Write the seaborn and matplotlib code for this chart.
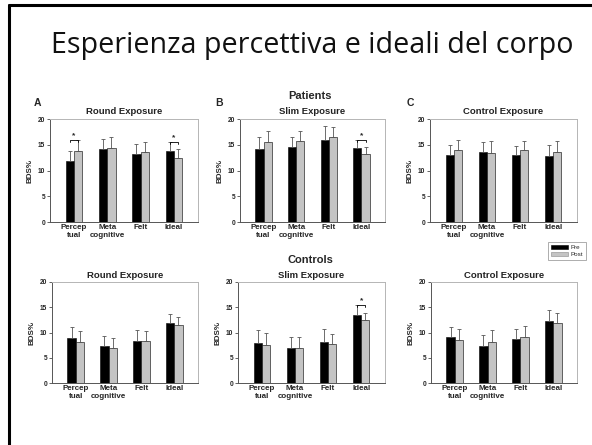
import matplotlib
matplotlib.use("Agg")
import matplotlib.pyplot as plt
import seaborn as sns
import pandas as pd
from matplotlib.patches import Patch
from matplotlib.lines import Line2D

sns.set_theme(style="white")
plt.rcParams['font.family'] = ['Liberation Sans', 'DejaVu Sans']

W, H = 592, 445

measures = ["Percep\ntual", "Meta\ncognitive", "Felt", "Ideal"]
times = ["Pre", "Post"]

# Patients
pA_pre = [11.8, 14.1, 13.2, 13.8]
pA_post = [13.8, 14.4, 13.6, 12.5]
pA_pre_err = [2.0, 2.1, 2.0, 1.8]
pA_post_err = [2.2, 2.1, 1.9, 1.7]

pB_pre = [14.2, 14.5, 16.0, 14.4]
pB_post = [15.5, 15.8, 16.5, 13.2]
pB_pre_err = [2.4, 2.0, 2.6, 1.6]
pB_post_err = [2.2, 1.8, 2.0, 1.3]

pC_pre = [13.0, 13.5, 13.0, 12.9]
pC_post = [13.9, 13.4, 13.9, 13.6]
pC_pre_err = [2.0, 2.0, 1.8, 2.0]
pC_post_err = [2.1, 2.3, 1.9, 2.2]

# Controls
cA_pre = [8.9, 7.3, 8.4, 11.9]
cA_post = [8.2, 7.0, 8.3, 11.4]
cA_pre_err = [2.1, 2.1, 2.1, 1.8]
cA_post_err = [2.0, 2.0, 1.9, 1.7]

cB_pre = [7.9, 6.9, 8.1, 13.5]
cB_post = [7.6, 7.0, 7.8, 12.4]
cB_pre_err = [2.6, 2.2, 2.6, 2.0]
cB_post_err = [2.3, 2.1, 2.0, 1.5]

cC_pre = [9.1, 7.4, 8.7, 12.3]
cC_post = [8.6, 8.1, 9.1, 11.8]
cC_pre_err = [2.0, 2.1, 2.0, 2.1]
cC_post_err = [2.1, 2.4, 2.1, 2.1]

panels = [
    ("Round Exposure", pA_pre, pA_post, pA_pre_err, pA_post_err, [0, 3], (50, 198, 119, 222)),
    ("Slim Exposure", pB_pre, pB_post, pB_pre_err, pB_post_err, [3], (240, 385, 119, 222)),
    ("Control Exposure", pC_pre, pC_post, pC_pre_err, pC_post_err, [], (430, 577, 119, 222)),
    ("Round Exposure", cA_pre, cA_post, cA_pre_err, cA_post_err, [], (52, 198, 282, 383)),
    ("Slim Exposure", cB_pre, cB_post, cB_pre_err, cB_post_err, [3], (238, 385, 282, 383)),
    ("Control Exposure", cC_pre, cC_post, cC_pre_err, cC_post_err, [], (431, 577, 282, 383)),
]

colors = {"Pre": "#000000", "Post": "#c4c4c4"}

fig = plt.figure(figsize=(W / 100, H / 100), dpi=100)
fig.patch.set_facecolor("white")

# slide border (left and top)
fig.add_artist(Line2D([9 / W, 9 / W], [0, 1 - 5 / H], color="black", lw=2.2, transform=fig.transFigure))
fig.add_artist(Line2D([9 / W, 1], [1 - 5 / H, 1 - 5 / H], color="black", lw=2.2, transform=fig.transFigure))

fig.text(312 / W, 1 - 45 / H, "Esperienza percettiva e ideali del corpo",
         ha="center", va="center", fontsize=20.6, family=["Open Sans", "DejaVu Sans"], color="#111111")

for i, (title, pre, post, pre_err, post_err, sig, (l, r, t, b)) in enumerate(panels):
    ax = fig.add_axes([l / W, 1 - b / H, (r - l) / W, (b - t) / H])
    df = pd.DataFrame({
        "measure": measures * 2,
        "time": ["Pre"] * 4 + ["Post"] * 4,
        "value": pre + post,
    })
    sns.barplot(data=df, x="measure", y="value", hue="time", order=measures,
                hue_order=times, palette=colors, width=0.5, errorbar=None,
                edgecolor="black", linewidth=0.4, legend=False, ax=ax)
    errs = {"Pre": pre_err, "Post": post_err}
    tops = {}
    for cont, tm in zip(ax.containers, times):
        xs = [p.get_x() + p.get_width() / 2 for p in cont.patches]
        hs = [p.get_height() for p in cont.patches]
        ax.errorbar(xs, hs, yerr=[[0] * len(hs), errs[tm]], fmt="none",
                    ecolor="#555555", elinewidth=0.6, capsize=1.6, capthick=0.6)
        tops[tm] = (xs, [h + e for h, e in zip(hs, errs[tm])])
    for k in sig:
        x1 = tops["Pre"][0][k]
        x2 = tops["Post"][0][k]
        y = max(tops["Pre"][1][k], tops["Post"][1][k]) - 0.1
        ax.plot([x1, x1, x2, x2], [y - 0.35, y, y, y - 0.35], color="black", lw=0.6)
        ax.text((x1 + x2) / 2, y + 0.1, "*", ha="center", va="bottom", fontsize=6, fontweight="bold")

    ax.set_ylim(0, 20)
    ax.set_xlim(-0.72, 3.72)
    ax.set_yticks([0, 5, 10, 15, 20])
    ax.set_yticklabels(["0", "5", "10", "15", "20"], fontsize=4.8, fontweight="bold")
    ax.set_xticks(range(4))
    ax.set_xticklabels(measures, fontsize=5.8, fontweight="bold", linespacing=1.1)
    ax.tick_params(axis="y", length=2, width=0.5, pad=1.5, left=True)
    ax.tick_params(axis="x", length=0, pad=1.5)
    ax.set_xlabel("")
    ax.set_ylabel("BDS%", fontsize=5.8, fontweight="bold", labelpad=3)
    for s in ["top", "right"]:
        ax.spines[s].set_color("#b5b5b5")
        ax.spines[s].set_linewidth(0.7)
    for s in ["left", "bottom"]:
        ax.spines[s].set_color("#555555")
        ax.spines[s].set_linewidth(0.7)
    cx = (l + r) / 2
    fig.text(cx / W, 1 - (t - 7) / H, title, ha="center", va="center",
             fontsize=6.8, fontweight="bold", color="#222222")

fig.text(37 / W, 1 - 103 / H, "A", ha="center", va="center", fontsize=7.5, fontweight="bold")
fig.text(219 / W, 1 - 103 / H, "B", ha="center", va="center", fontsize=7.5, fontweight="bold")
fig.text(410 / W, 1 - 103 / H, "C", ha="center", va="center", fontsize=7.5, fontweight="bold")
fig.text(310 / W, 1 - 96 / H, "Patients", ha="center", va="center", fontsize=8, fontweight="bold")
fig.text(310 / W, 1 - 260 / H, "Controls", ha="center", va="center", fontsize=8, fontweight="bold")

handles = [Patch(facecolor="black", edgecolor="black", linewidth=0.4),
           Patch(facecolor="#c4c4c4", edgecolor="#888888", linewidth=0.4)]
leg = fig.legend(handles, times, loc="upper left", bbox_to_anchor=(545 / W, 1 - 239 / H),
                 fontsize=4.5, frameon=True, fancybox=False, edgecolor="#888888",
                 handlelength=2.6, handleheight=0.5, borderpad=0.5, labelspacing=0.3,
                 handletextpad=0.5)
leg.get_frame().set_linewidth(0.6)

fig.savefig("out.png", dpi=100, facecolor="white")
